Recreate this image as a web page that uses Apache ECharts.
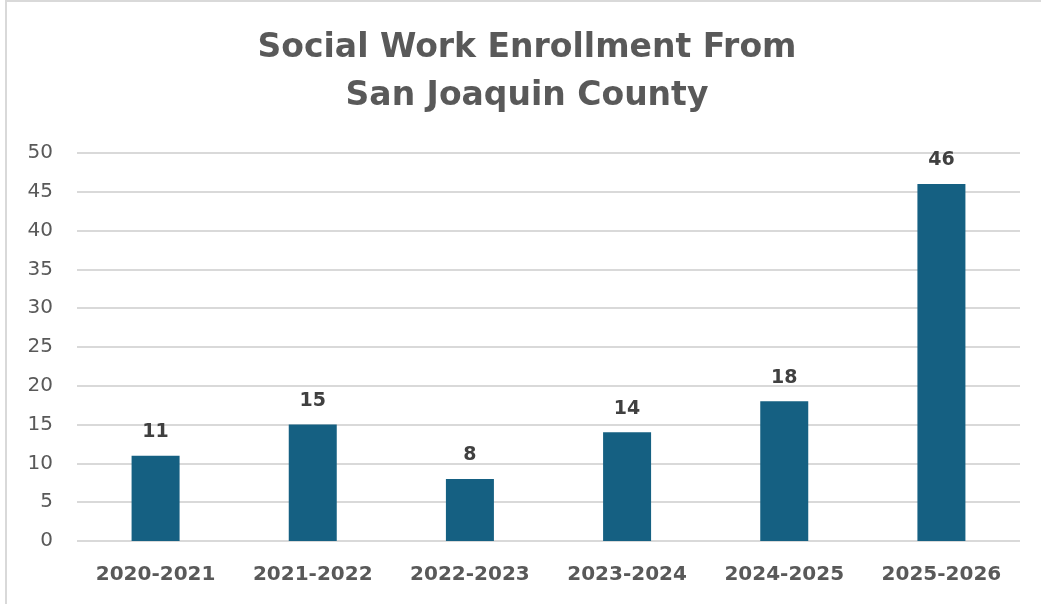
<!DOCTYPE html>
<html>
<head>
<meta charset="utf-8">
<script src="https://cdn.jsdelivr.net/npm/echarts@6/dist/echarts.min.js"></script>
<style>
  html, body { margin: 0; padding: 0; background: #fff; }
  #chart { width: 1041px; height: 604px; }
  #frame {
    position: absolute; left: 5px; top: 0; width: 1036px; height: 604px;
    border-left: 2px solid #d9d9d9; border-top: 2px solid #d9d9d9;
    box-sizing: border-box; pointer-events: none;
  }
</style>
</head>
<body>
<div id="chart"></div>
<div id="frame"></div>
<script>
const years = ["2020-2021", "2021-2022", "2022-2023", "2023-2024", "2024-2025", "2025-2026"];
const enrollment = [11, 15, 8, 14, 18, 46];

const chart = echarts.init(document.getElementById("chart"), null, { renderer: "canvas" });

const option = {
  animation: false,
  title: {
    text: "Social Work Enrollment From\nSan Joaquin County",
    left: 522,
    textAlign: "center",
    top: 19,
    textStyle: {
      fontFamily: "DejaVu Sans",
      fontSize: 33,
      fontWeight: "bold",
      color: "#595959",
      lineHeight: 48
    }
  },
  grid: {
    left: 77,
    right: 21,
    top: 153,
    bottom: 63
  },
  xAxis: {
    type: "category",
    data: years,
    axisLine: { show: false },
    axisTick: { show: false },
    axisLabel: {
      margin: 24,
      fontFamily: "DejaVu Sans",
      fontSize: 20,
      fontWeight: "bold",
      color: "#595959"
    }
  },
  yAxis: {
    type: "value",
    min: 0,
    max: 50,
    interval: 5,
    axisLine: { show: false },
    axisTick: { show: false },
    axisLabel: {
      margin: 24,
      fontFamily: "DejaVu Sans",
      fontSize: 20,
      color: "#595959"
    },
    splitLine: {
      lineStyle: { color: "#d9d9d9", width: 2 }
    }
  },
  series: [
    {
      type: "bar",
      data: enrollment,
      barWidth: 48,
      itemStyle: { color: "#156082" },
      label: {
        show: true,
        position: "top",
        distance: 14,
        fontFamily: "DejaVu Sans",
        fontSize: 19,
        fontWeight: "bold",
        color: "#404040"
      }
    }
  ]
};

chart.setOption(option);
</script>
</body>
</html>
